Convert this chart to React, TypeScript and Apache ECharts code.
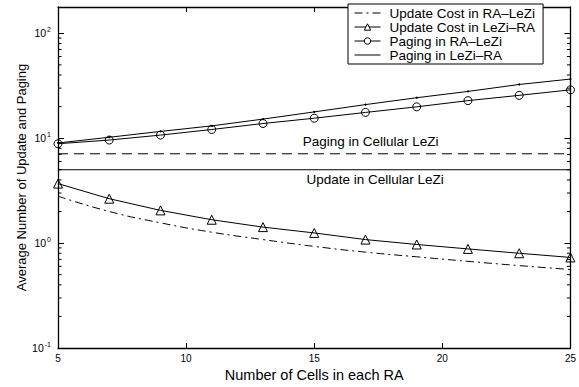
import React, { useEffect, useRef } from "react";
import * as echarts from "echarts";

const cells = [5, 7, 9, 11, 13, 15, 17, 19, 21, 23, 25];
const updateRALeZi = [2.8, 2.0, 1.56, 1.27, 1.08, 0.93, 0.82, 0.74, 0.67, 0.61, 0.56];
const updateLeZiRA = [3.69, 2.65, 2.05, 1.67, 1.42, 1.25, 1.08, 0.97, 0.88, 0.8, 0.73];
const pagingRALeZi = [8.85, 9.6, 10.7, 12.1, 13.8, 15.5, 17.6, 19.9, 22.8, 25.6, 28.9];
const pagingLeZiRA = [9.0, 10.2, 11.6, 13.1, 15.2, 17.8, 20.9, 24.3, 27.9, 32.5, 36.6];
const cellularRange = [5, 25];
const pagingCellular = 7.1;
const updateCellular = 5.0;
const minorTicks = [
  0.2, 0.3, 0.4, 0.5, 0.6, 0.7, 0.8, 0.9,
  2, 3, 4, 5, 6, 7, 8, 9,
  20, 30, 40, 50, 60, 70, 80, 90,
];

const names = [
  "Update Cost in RA–LeZi",
  "Update Cost in LeZi–RA",
  "Paging in RA–LeZi",
  "Paging in LeZi–RA",
];

const FONT = "Liberation Sans, Arial, Helvetica, sans-serif";

function zip(xs: number[], ys: number[]) {
  return xs.map((x, i) => [x, ys[i]]);
}

function isPow10(v: number) {
  const l = Math.log10(v);
  return Math.abs(l - Math.round(l)) < 1e-6;
}

export default function App() {
  const ref = useRef<HTMLDivElement>(null);
  useEffect(() => {
    if (!ref.current) return;
    const chart = echarts.init(ref.current, null, { renderer: "svg" });
    const yLabel = {
      fontFamily: FONT,
      color: "#000",
      margin: 7,
      formatter: (v: number) => {
        if (!isPow10(v)) return "";
        return `{b|10}{e|${Math.round(Math.log10(v))}}`;
      },
      rich: {
        b: { fontSize: 10.5, fontFamily: FONT, color: "#000", lineHeight: 14 },
        e: { fontSize: 7, fontFamily: FONT, color: "#000", verticalAlign: "top", lineHeight: 14, padding: [0, 0, 6, 1] },
      },
    };
    const lineBlack = { color: "#000", width: 1 };
    const hiddenIcon = { color: "rgba(0,0,0,0)", borderColor: "rgba(0,0,0,0)", borderWidth: 0 };
    const hollowIcon = { color: "#fff", borderColor: "#000", borderWidth: 1 };
    chart.setOption({
      animation: false,
      backgroundColor: "#fff",
      grid: { left: 58, right: 7, top: 7, bottom: 34 },
      legend: {
        data: [
          { name: names[0], itemStyle: hiddenIcon },
          { name: names[1], itemStyle: hollowIcon },
          { name: names[2], itemStyle: hollowIcon },
          { name: names[3], itemStyle: hiddenIcon },
        ],
        orient: "vertical",
        left: 348,
        top: 4,
        backgroundColor: "#fff",
        borderColor: "#000",
        borderWidth: 1,
        borderRadius: 0,
        padding: [2, 8, 2, 6],
        itemGap: 0,
        itemWidth: 26,
        itemHeight: 8,
        lineStyle: { width: 1 },
        textStyle: { fontFamily: FONT, fontSize: 13.5, color: "#000", lineHeight: 14, padding: [0, 0, 0, 4] },
      },
      xAxis: [
        {
          type: "value",
          min: 5,
          max: 25,
          interval: 5,
          position: "bottom",
          name: "Number of Cells in each RA",
          nameLocation: "middle",
          nameGap: 19,
          nameMoveOverlap: false,
          nameTextStyle: { fontFamily: FONT, fontSize: 14.5, color: "#000" },
          axisLine: { lineStyle: { color: "#000", width: 1.3 } },
          axisTick: { inside: true, length: 5, lineStyle: { color: "#000" } },
          axisLabel: { fontFamily: FONT, fontSize: 10, color: "#000", margin: 5 },
          splitLine: { show: false },
        },
        {
          type: "value",
          min: 5,
          max: 25,
          interval: 5,
          position: "top",
          axisLine: { lineStyle: { color: "#000", width: 1.3 } },
          axisTick: { inside: true, length: 5, lineStyle: { color: "#000" } },
          axisLabel: { show: false },
          splitLine: { show: false },
        },
      ],
      yAxis: [
        {
          type: "log",
          logBase: 10,
          min: 0.1,
          max: 178,
          position: "left",
          name: "Average Number of Update and Paging",
          nameLocation: "middle",
          nameGap: 30,
          nameMoveOverlap: false,
          nameTextStyle: { fontFamily: FONT, fontSize: 13, color: "#000" },
          axisLine: { lineStyle: { color: "#000", width: 1.3 } },
          axisTick: { inside: true, length: 6, lineStyle: { color: "#000" } },
          axisLabel: yLabel,
          splitLine: { show: false },
          minorTick: { show: false },
        },
        {
          type: "log",
          logBase: 10,
          min: 0.1,
          max: 178,
          position: "right",
          axisLine: { lineStyle: { color: "#000", width: 1.3 } },
          axisTick: { inside: true, length: 6, lineStyle: { color: "#000" } },
          axisLabel: { show: false },
          splitLine: { show: false },
        },
      ],
      series: [
        {
          name: names[0],
          type: "line",
          data: zip(cells, updateRALeZi),
          smooth: true,
          symbol: "none",
          color: "#000",
          lineStyle: { color: "#000", width: 1, type: [8, 4, 2, 4] },
        },
        {
          name: names[1],
          type: "line",
          data: zip(cells, updateLeZiRA),
          symbol: "triangle",
          symbolSize: 9,
          color: "#000",
          itemStyle: { color: "rgba(255,255,255,0)", borderColor: "#000", borderWidth: 1 },
          lineStyle: lineBlack,
        },
        {
          name: names[2],
          type: "line",
          data: zip(cells, pagingRALeZi),
          symbol: "circle",
          symbolSize: 8,
          color: "#000",
          itemStyle: { color: "rgba(255,255,255,0)", borderColor: "#000", borderWidth: 1 },
          lineStyle: lineBlack,
        },
        {
          name: names[3],
          type: "line",
          data: zip(cells, pagingLeZiRA),
          symbol: "circle",
          symbolSize: 2,
          color: "#000",
          itemStyle: { color: "#000" },
          lineStyle: lineBlack,
        },
        {
          name: "Paging in Cellular LeZi",
          type: "line",
          data: cellularRange.map((x) => [x, pagingCellular]),
          symbol: "none",
          lineStyle: { color: "#000", width: 1, type: [10, 6] },
          markPoint: {
            symbol: "circle",
            symbolSize: 0,
            data: [
              {
                coord: [14.55, pagingCellular],
                label: {
                  show: true,
                  formatter: "Paging in Cellular LeZi",
                  position: "right",
                  distance: 0,
                  offset: [0, -12.5],
                  fontFamily: FONT,
                  fontSize: 13.5,
                  color: "#000",
                },
              },
            ],
          },
        },
        {
          name: "Update in Cellular LeZi",
          type: "line",
          data: cellularRange.map((x) => [x, updateCellular]),
          symbol: "none",
          lineStyle: { color: "#000", width: 1 },
          markPoint: {
            symbol: "circle",
            symbolSize: 0,
            data: [
              {
                coord: [14.7, updateCellular],
                label: {
                  show: true,
                  formatter: "Update in Cellular LeZi",
                  position: "right",
                  distance: 0,
                  offset: [0, 10],
                  fontFamily: FONT,
                  fontSize: 13.5,
                  color: "#000",
                },
              },
            ],
          },
        },
        {
          name: "minor ticks",
          type: "custom",
          silent: true,
          clip: false,
          data: minorTicks.map((v) => [5, v]),
          renderItem: (params: any, api: any) => {
            const p = api.coord([api.value(0), api.value(1)]);
            const cs = params.coordSys;
            const len = 3.5;
            return {
              type: "group",
              children: [
                { type: "line", shape: { x1: cs.x, y1: p[1], x2: cs.x + len, y2: p[1] }, style: { stroke: "#000", lineWidth: 1 } },
                { type: "line", shape: { x1: cs.x + cs.width - len, y1: p[1], x2: cs.x + cs.width, y2: p[1] }, style: { stroke: "#000", lineWidth: 1 } },
              ],
            };
          },
        },
      ],
    });
    return () => chart.dispose();
  }, []);
  return <div ref={ref} style={{ position: "fixed", left: 0, top: 0, width: 579, height: 387, background: "#fff" }} />;
}
